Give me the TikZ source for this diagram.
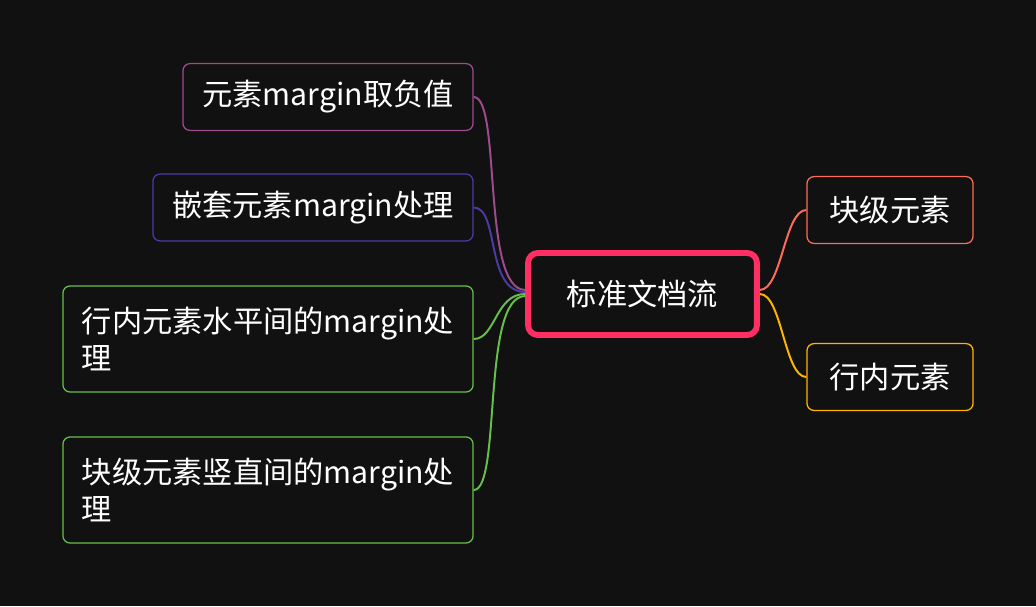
\documentclass[tikz,border=0pt]{standalone}
\usepackage{fontspec}
\setmainfont{Noto Sans CJK SC}
\usepackage{tikz}
\usetikzlibrary{positioning}

\definecolor{bgdark}{HTML}{111111}
\definecolor{rootred}{HTML}{FF2E63}
\definecolor{coral}{HTML}{FF6B5B}
\definecolor{amber}{HTML}{FFB400}
\definecolor{plum}{HTML}{A04A8E}
\definecolor{indigo}{HTML}{4B3BA8}
\definecolor{leaf}{HTML}{67BF4B}

\begin{document}
\begin{tikzpicture}[x=0.025cm,y=-0.025cm,
	every node/.style={text=white,font=\fontsize{21.5}{26}\selectfont},
	topic/.style={shape=rectangle,draw=rootred,line width=4.2pt,rounded corners=7pt,minimum width=5.72cm,minimum height=2.05cm},
	branch/.style={shape=rectangle,draw,line width=0.9pt,rounded corners=5pt,minimum height=1.67cm},
	wide/.style={branch,draw=leaf,align=left,minimum width=10.25cm,minimum height=2.65cm},
	link/.style={line width=1.4pt}]
	% background
	\fill[bgdark] (0,0) rectangle (1036,606);
	\useasboundingbox (0,0) rectangle (1036,606);

	% create the nodes
	\node[topic] (root) at (642.5,294) {标准文档流};
	\node[branch,draw=coral,minimum width=4.15cm] (block) at (890,210) {块级元素};
	\node[branch,draw=amber,minimum width=4.15cm] (inline) at (890,377) {行内元素};
	\node[branch,draw=plum,minimum width=7.25cm] (negm) at (328,97) {元素margin取负值};
	\node[branch,draw=indigo,minimum width=8cm] (nested) at (313,207.5) {嵌套元素margin处理};
	\node[wide] (hgap) at (268,339) {行内元素水平间的margin处\\理};
	\node[wide] (vgap) at (268,490) {块级元素竖直间的margin处\\理};

	% connect the nodes
	\draw[link,coral] (root.2) .. controls +(22,0) and +(-22,0) .. (block.west);
	\draw[link,amber] (root.-0.5) .. controls +(22,0) and +(-22,0) .. (inline.west);
	\draw[link,plum] (root.178) .. controls +(-44,0) and +(28,0) .. (negm.east);
	\draw[link,indigo] (root.179) .. controls +(-40,0) and +(26,0) .. (nested.east);
	\draw[link,leaf] (root.180.5) .. controls +(-30,0) and +(22,0) .. (hgap.east);
	\draw[link,leaf] (root.181.5) .. controls +(-44,0) and +(28,0) .. (vgap.east);
\end{tikzpicture}
\end{document}
